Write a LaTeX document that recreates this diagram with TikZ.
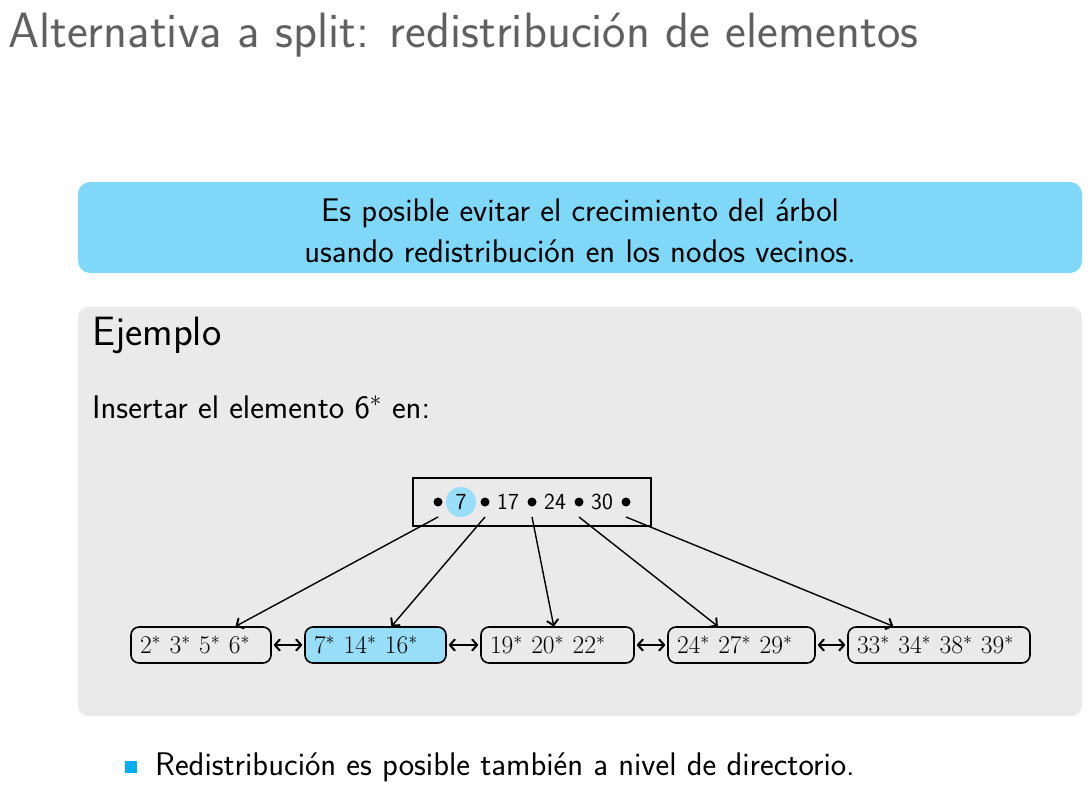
\RequirePackage{fix-cm}
\documentclass[tikz,border=0pt]{standalone}
\usetikzlibrary{arrows.meta}
\definecolor{titlegray}{RGB}{96,96,96}
\definecolor{boxblue}{RGB}{128,216,248}
\definecolor{hlblue}{RGB}{153,222,248}
\definecolor{blockgray}{RGB}{234,234,234}
\definecolor{bulletblue}{RGB}{0,174,239}
\begin{document}
\begin{tikzpicture}[x=1pt, y=-1pt, >={Straight Barb[length=5pt,width=11pt,line width=2pt,round]},
  leaf/.style={draw, rounded corners=8pt, line width=1.6pt, inner xsep=9pt, inner ysep=0pt,
    minimum height=36pt, align=left, font=\fontsize{25.5}{28}\selectfont\rmfamily},
  key/.style={font=\fontsize{23}{25}\selectfont\sffamily, inner sep=0pt},
  txt/.style={anchor=base west, font=\fontsize{32.7}{38}\selectfont\sffamily, inner sep=0pt}]
\useasboundingbox (0,0) rectangle (1090,787);
\node[anchor=base west, inner sep=0pt, text=titlegray, font=\fontsize{49.6}{58}\selectfont\sffamily] (title) at (8,47) {Alternativa a split: redistribución de elementos};
\fill[boxblue, rounded corners=12pt] (78,182) rectangle (1082,273);
\node[anchor=base, inner sep=0pt, font=\fontsize{32.7}{38}\selectfont\sffamily] (alert1) at (580,221) {Es posible evitar el crecimiento del árbol};
\node[anchor=base, inner sep=0pt, font=\fontsize{32.7}{38}\selectfont\sffamily] (alert2) at (580,262) {usando redistribución en los nodos vecinos.};
\fill[blockgray, rounded corners=10pt] (78,307) rectangle (1082,716);
\node[txt, font=\fontsize{41}{48}\selectfont\sffamily] (ejemplo) at (92,345) {Ejemplo};
\node[txt] (insertar) at (92,418) {Insertar el elemento 6$^*$ en:};
% raiz
\node[draw, line width=1.6pt, minimum width=238pt, minimum height=48pt] (root) at (532,502) {};
\node[circle, fill=hlblue, minimum size=30pt, inner sep=0pt] (hl) at (461,502) {};
\foreach \i/\x in {0/438,1/485,2/532,3/579,4/626}{
  \fill (\x,502) circle (4.5pt);
  \coordinate (p\i) at (\x,517);
}
\foreach \k/\x in {7/461,17/508,24/555,30/602}
  \node[key] (k\k) at (\x,502) {\k};
% hojas
\node[leaf, text width=122pt] (l1) at (201,645) {$2^*\ 3^*\ 5^*\ 6^*$};
\node[leaf, text width=123pt, fill=hlblue] (l2) at (375.5,645) {$7^*\ 14^*\ 16^*$};
\node[leaf, text width=135pt] (l3) at (557.5,645) {$19^*\ 20^*\ 22^*$};
\node[leaf, text width=129pt] (l4) at (741.5,645) {$24^*\ 27^*\ 29^*$};
\node[leaf, text width=164pt] (l5) at (939,645) {$33^*\ 34^*\ 38^*\ 39^*$};
\foreach \i in {1,...,5}{
  \pgfmathtruncatemacro{\j}{\i-1}
  \draw[->, line width=1.4pt] (p\j) -- (l\i);
}
\foreach \i/\j in {1/2,2/3,3/4,4/5}
  \draw[<->, line width=1.4pt, shorten <=2pt, shorten >=2pt] (l\i) -- (l\j);
\fill[bulletblue] (125,761) rectangle (137,773);
\node[txt] (bullet) at (155,775) {Redistribución es posible también a nivel de directorio.};
\end{tikzpicture}
\end{document}
